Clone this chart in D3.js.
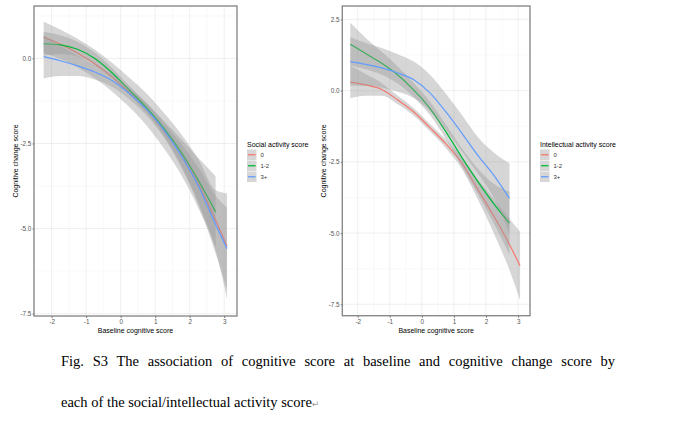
<!DOCTYPE html>
<html>
<head>
<meta charset="utf-8">
<script src="https://cdn.jsdelivr.net/npm/d3@7"></script>
<style>
  body { margin: 0; background: #fff; }
</style>
</head>
<body>
<script>
// Chart size
const width = 687;
const height = 443;

// Group labels and colours (ggplot defaults)
const groups = ["0", "1-2", "3+"];
const groupColors = ["#F8766D", "#00BA38", "#619CFF"];

const xTicks = [-2, -1, 0, 1, 2, 3];

// --- Social activity panel (loess fit with 95% band) ---
const socialX = [-2.23, -1.75, -1.25, -0.75, -0.25, 0.25, 0.75, 1.25, 1.75, 2.25, 2.75, 3.08];

const social0Fit = [0.62, 0.42, 0.16, -0.16, -0.55, -1.00, -1.50, -2.12, -2.82, -3.68, -4.75, -5.52];
const social0Lo  = [0.16, -0.01, -0.26, -0.58, -0.97, -1.43, -1.97, -2.64, -3.42, -4.40, -5.63, -7.07];
const social0Hi  = [1.08, 0.85, 0.58, 0.26, -0.13, -0.57, -1.03, -1.60, -2.22, -2.96, -3.87, -3.97];

const social12Fit = [0.43, 0.40, 0.27, 0.00, -0.42, -0.93, -1.45, -2.05, -2.75, -3.58, -4.51];
const social12Lo  = [0.08, 0.12, 0.05, -0.17, -0.56, -1.06, -1.60, -2.27, -3.13, -4.23, -5.56];
const social12Hi  = [0.78, 0.68, 0.49, 0.17, -0.28, -0.80, -1.30, -1.83, -2.37, -2.93, -3.46];

const social3Fit = [0.05, -0.07, -0.22, -0.40, -0.65, -1.03, -1.50, -2.10, -2.85, -3.75, -4.88, -5.59];
const social3Lo  = [-0.59, -0.52, -0.52, -0.62, -0.83, -1.20, -1.68, -2.32, -3.20, -4.30, -5.73, -6.79];
const social3Hi  = [0.69, 0.38, 0.08, -0.18, -0.47, -0.86, -1.32, -1.88, -2.50, -3.20, -4.03, -4.39];

const socialYTicks = [0, -2.5, -5, -7.5];

// --- Intellectual activity panel ---
const intelX = [-2.23, -1.75, -1.25, -0.75, -0.25, 0.25, 0.75, 1.25, 1.75, 2.25, 2.73, 3.06];

const intel0Fit = [0.30, 0.20, 0.04, -0.33, -0.75, -1.30, -1.87, -2.55, -3.48, -4.42, -5.40, -6.15];
const intel0Lo  = [-0.27, -0.18, -0.18, -0.48, -0.88, -1.43, -2.02, -2.75, -3.83, -5.02, -6.30, -7.35];
const intel0Hi  = [0.87, 0.58, 0.26, -0.18, -0.62, -1.17, -1.72, -2.35, -3.13, -3.82, -4.50, -4.95];

const intel12Fit = [1.63, 1.30, 0.96, 0.55, 0.02, -0.62, -1.45, -2.35, -3.20, -3.98, -4.65];
const intel12Lo  = [0.88, 0.75, 0.56, 0.25, -0.23, -0.86, -1.71, -2.67, -3.65, -4.68, -5.75];
const intel12Hi  = [2.38, 1.85, 1.36, 0.85, 0.27, -0.38, -1.19, -2.03, -2.75, -3.28, -3.55];

const intel3Fit = [1.02, 0.92, 0.80, 0.62, 0.38, -0.08, -0.75, -1.50, -2.28, -2.98, -3.78];
const intel3Lo  = [0.17, 0.17, 0.10, -0.04, -0.26, -0.72, -1.39, -2.14, -2.92, -3.78, -5.01];
const intel3Hi  = [1.87, 1.67, 1.50, 1.28, 1.02, 0.56, -0.11, -0.86, -1.64, -2.18, -2.55];

const intelYTicks = [2.5, 0, -2.5, -5, -7.5];

// Caption text
const captionLines = [
  "Fig. S3 The association of cognitive score at baseline and cognitive change score by",
  "each of the social/intellectual activity score"
];

// Build rows for one group
function makeSeries(xs, fit, lo, hi) {
  return fit.map((f, i) => ({ x: xs[i], y: f, lo: lo[i], hi: hi[i] }));
}

const svg = d3.select("body")
  .append("svg")
  .attr("width", width)
  .attr("height", height)
  .style("font-family", "'Liberation Sans', Arial, sans-serif");

function drawPanel(opt) {
  const x = d3.scaleLinear().domain(opt.xDomain).range([opt.left, opt.right]);
  const y = d3.scaleLinear().domain(opt.yDomain).range([opt.bottom, opt.top]);
  const g = svg.append("g");

  // grid: minor then major
  const xMinor = d3.range(-2.5, 3.51, 1).filter(v => v > opt.xDomain[0] && v < opt.xDomain[1]);
  const yMinor = d3.range(-6.25, 2.6, 2.5).filter(v => v > opt.yDomain[0] && v < opt.yDomain[1]);
  g.selectAll(".xminor").data(xMinor).enter().append("line")
    .attr("x1", d => x(d)).attr("x2", d => x(d))
    .attr("y1", opt.top).attr("y2", opt.bottom)
    .attr("stroke", "#f2f2f2").attr("stroke-width", 0.5);
  g.selectAll(".yminor").data(yMinor).enter().append("line")
    .attr("y1", d => y(d)).attr("y2", d => y(d))
    .attr("x1", opt.left).attr("x2", opt.right)
    .attr("stroke", "#f2f2f2").attr("stroke-width", 0.5);
  g.selectAll(".xmajor").data(xTicks).enter().append("line")
    .attr("x1", d => x(d)).attr("x2", d => x(d))
    .attr("y1", opt.top).attr("y2", opt.bottom)
    .attr("stroke", "#ebebeb").attr("stroke-width", 0.8);
  g.selectAll(".ymajor").data(opt.yTicks).enter().append("line")
    .attr("y1", d => y(d)).attr("y2", d => y(d))
    .attr("x1", opt.left).attr("x2", opt.right)
    .attr("stroke", "#ebebeb").attr("stroke-width", 0.8);

  const area = d3.area()
    .x(d => x(d.x)).y0(d => y(d.lo)).y1(d => y(d.hi))
    .curve(d3.curveMonotoneX);
  const line = d3.line()
    .x(d => x(d.x)).y(d => y(d.y))
    .curve(d3.curveMonotoneX);

  // ribbon then line, per group
  opt.series.forEach((s, i) => {
    g.append("path").datum(s)
      .attr("d", area)
      .attr("fill", "#999999")
      .attr("fill-opacity", 0.4);
    g.append("path").datum(s)
      .attr("d", line)
      .attr("fill", "none")
      .attr("stroke", groupColors[i])
      .attr("stroke-width", 1.2);
  });

  // panel border
  g.append("rect")
    .attr("x", opt.left).attr("y", opt.top)
    .attr("width", opt.right - opt.left).attr("height", opt.bottom - opt.top)
    .attr("fill", "none").attr("stroke", "#8a8a8a").attr("stroke-width", 1.4);

  // axes
  const xAxis = g.append("g")
    .attr("transform", `translate(0,${opt.bottom})`)
    .call(d3.axisBottom(x).tickValues(xTicks).tickSize(2).tickPadding(2).tickFormat(d => d));
  const yAxis = g.append("g")
    .attr("transform", `translate(${opt.left},0)`)
    .call(d3.axisLeft(y).tickValues(opt.yTicks).tickSize(1.5).tickPadding(1.2).tickFormat(d => d.toFixed(1)));
  [xAxis, yAxis].forEach(a => {
    a.select(".domain").remove();
    a.selectAll(".tick line").attr("stroke", "#777");
    a.selectAll(".tick text")
      .attr("fill", "#555")
      .style("font-size", "6.3px")
      .style("font-family", "'Liberation Sans', Arial, sans-serif");
  });

  // axis titles
  g.append("text")
    .attr("x", (opt.left + opt.right) / 2).attr("y", 333)
    .attr("text-anchor", "middle")
    .style("font-size", "7px")
    .text("Baseline cognitive score");
  g.append("text")
    .attr("transform", `translate(${opt.left - 16},${(opt.top + opt.bottom) / 2}) rotate(-90)`)
    .attr("text-anchor", "middle")
    .style("font-size", "7px")
    .text("Cognitive change score");

  // legend
  const lg = g.append("g").attr("transform", `translate(${opt.legendX},146.5)`);
  lg.append("text").attr("x", 0).attr("y", 0)
    .style("font-size", "7px")
    .text(opt.legendTitle);
  groups.forEach((name, i) => {
    const cy = 8 + i * 11;
    lg.append("rect")
      .attr("x", 0).attr("y", cy - 5)
      .attr("width", 9.5).attr("height", 10.5)
      .attr("fill", "#d6d6d6");
    lg.append("line")
      .attr("x1", 1).attr("x2", 8.5)
      .attr("y1", cy + 0.25).attr("y2", cy + 0.25)
      .attr("stroke", groupColors[i]).attr("stroke-width", 1.3);
    lg.append("text")
      .attr("x", 13.5).attr("y", cy + 2.5)
      .style("font-size", "6px")
      .attr("fill", "#333")
      .text(name);
  });
}

drawPanel({
  left: 34, right: 237, top: 6, bottom: 316,
  xDomain: [-2.51, 3.37], yDomain: [-7.57, 1.54],
  yTicks: socialYTicks,
  legendX: 247, legendTitle: "Social activity score",
  series: [
    makeSeries(socialX, social0Fit, social0Lo, social0Hi),
    makeSeries(socialX, social12Fit, social12Lo, social12Hi),
    makeSeries(socialX, social3Fit, social3Lo, social3Hi)
  ]
});

drawPanel({
  left: 342.3, right: 530, top: 6, bottom: 315.7,
  xDomain: [-2.48, 3.37], yDomain: [-7.9, 2.97],
  yTicks: intelYTicks,
  legendX: 540, legendTitle: "Intellectual activity score",
  series: [
    makeSeries(intelX, intel0Fit, intel0Lo, intel0Hi),
    makeSeries(intelX, intel12Fit, intel12Lo, intel12Hi),
    makeSeries(intelX, intel3Fit, intel3Lo, intel3Hi)
  ]
});

// Caption below the figure (first line is justified, as in Word)
const cap = svg.append("g")
  .style("font-family", "'Liberation Serif', 'Times New Roman', serif")
  .style("font-size", "14.5px")
  .attr("fill", "#000");
cap.append("text").attr("x", 61).attr("y", 366)
  .style("word-spacing", "5.1px")
  .text(captionLines[0]);
const line2 = cap.append("text").attr("x", 61).attr("y", 407);
line2.append("tspan").text(captionLines[1]);
line2.append("tspan")
  .style("font-family", "'DejaVu Sans', sans-serif")
  .style("font-size", "9px")
  .attr("fill", "#9a9a9a")
  .text("\u21B5");
</script>
</body>
</html>
